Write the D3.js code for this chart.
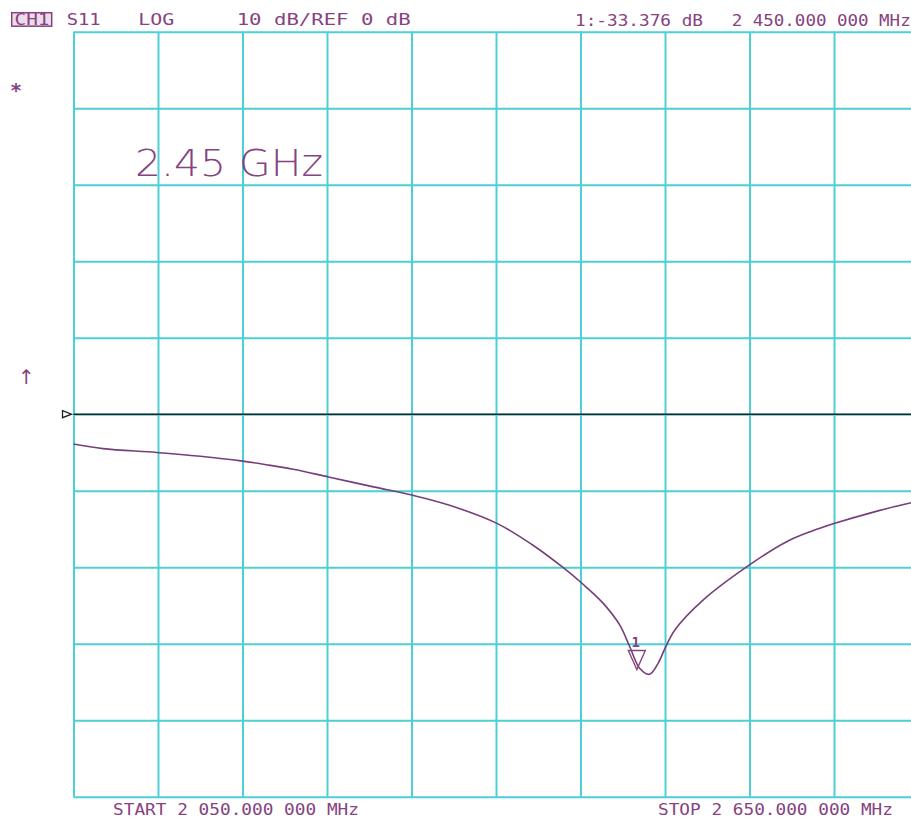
<!DOCTYPE html>
<html>
<head>
<meta charset="utf-8">
<script src="https://cdn.jsdelivr.net/npm/d3@7"></script>
<style>
  body { margin: 0; background: #fff; }
  svg { display: block; }
</style>
</head>
<body>
<svg id="root"></svg>
<script>
// S11 trace
const freqMHz = [2050, 2071, 2109, 2140, 2169, 2187, 2206, 2231, 2263, 2291, 2317, 2351, 2376, 2398, 2411, 2426, 2438, 2445, 2452, 2459, 2465, 2470, 2477, 2497, 2530, 2556, 2574, 2590, 2618, 2644, 2650];
const s11dB = [-3.9, -4.5, -5.0, -5.5, -6.1, -6.6, -7.2, -8.2, -9.5, -10.6, -11.9, -14.3, -17.1, -20.1, -22.1, -24.7, -27.6, -30.4, -33.2, -34.0, -32.6, -30.6, -28.2, -24.3, -19.7, -16.7, -15.3, -14.3, -12.8, -11.6, -11.4];

const freqTicks = d3.range(2050, 2651, 60);
const dbTicks = d3.range(-50, 51, 10);
const refLevel = 0;
const marker = { f: 2450, db: -33.376, label: "1" };
const headerLeft = ["S11", "LOG", "10 dB/REF 0 dB"];
const headerRight = ["1:-33.376 dB", "2 450.000 000 MHz"];
const footer = ["START 2 050.000 000 MHz", "STOP 2 650.000 000 MHz"];
const bigLabel = "2.45 GHz";

const width = 911;
const height = 820;
const purple = "#86437f";
const cyan = "#4ccfd6";
const mono = "'DejaVu Sans Mono', 'Liberation Mono', monospace";

const svg = d3.select("#root").attr("width", width).attr("height", height);

const x = d3.scaleLinear().domain([2050, 2650]).range([73.5, 918.5]);
const y = d3.scaleLinear().domain([-50, 50]).range([796.7, 31.7]);

// grid
const grid = svg.append("g");
grid.append("g")
  .attr("transform", `translate(0, ${y(-50)})`)
  .call(d3.axisBottom(x).tickValues(freqTicks).tickSize(-(y(-50) - y(50))).tickFormat(""))
  .call(g => g.select(".domain").remove());
grid.append("g")
  .attr("transform", `translate(${x(2050)}, 0)`)
  .call(d3.axisLeft(y).tickValues(dbTicks).tickSize(-(x(2650) - x(2050))).tickFormat(""))
  .call(g => g.select(".domain").remove());
grid.selectAll(".tick line").attr("stroke", cyan).attr("stroke-width", 2);

// reference line
svg.append("line")
  .attr("x1", x(2050)).attr("x2", x(2650))
  .attr("y1", y(refLevel)).attr("y2", y(refLevel))
  .attr("stroke", "#222").attr("stroke-width", 1.6);
svg.append("path")
  .attr("d", `M${x(2050) - 11},${y(refLevel) - 3.5} L${x(2050) - 2},${y(refLevel)} L${x(2050) - 11},${y(refLevel) + 3.5} Z`)
  .attr("fill", "#fff").attr("stroke", "#222").attr("stroke-width", 1.3);

// trace
const line = d3.line()
  .x((d, i) => x(freqMHz[i]))
  .y(d => y(d))
  .curve(d3.curveCatmullRom.alpha(0.5));
svg.append("path")
  .datum(s11dB)
  .attr("d", line)
  .attr("fill", "none")
  .attr("stroke", "#763f7a")
  .attr("stroke-width", 1.6);

// marker
const mx = x(marker.f), my = y(marker.db);
svg.append("path")
  .attr("d", `M${mx},${my} L${mx - 8.5},${my - 19} L${mx + 8.5},${my - 19} Z`)
  .attr("fill", "none").attr("stroke", purple).attr("stroke-width", 1.4);
svg.append("text")
  .attr("x", mx - 1).attr("y", my - 23)
  .attr("text-anchor", "middle")
  .attr("font-family", mono).attr("font-size", 14).attr("font-weight", "bold")
  .attr("fill", purple)
  .text(marker.label);

// header
svg.append("rect")
  .attr("x", 11.7).attr("y", 12.7).attr("width", 40).attr("height", 13.5)
  .attr("fill", "#ecdcea").attr("stroke", purple).attr("stroke-width", 1.5);
const txt = (s, x0, len, yb) => svg.append("text")
  .attr("x", x0).attr("y", yb)
  .attr("font-family", mono).attr("font-size", 15)
  .attr("fill", purple)
  .attr("textLength", len).attr("lengthAdjust", "spacingAndGlyphs")
  .text(s);
txt("CH1", 14.5, 35, 25);
txt(headerLeft[0], 66.7, 34, 25);
txt(headerLeft[1], 138.3, 36, 25);
txt(headerLeft[2], 236.7, 174, 25);
txt(headerRight[0], 575, 128, 26);
txt(headerRight[1], 731.7, 179, 26);
txt(footer[0], 113, 246, 815);
txt(footer[1], 658, 235, 815);

svg.append("text")
  .attr("x", 10).attr("y", 97)
  .attr("font-family", mono).attr("font-size", 20).attr("font-weight", "bold")
  .attr("fill", purple).text("*");
svg.append("text")
  .attr("x", 18).attr("y", 384)
  .attr("font-family", "'DejaVu Sans', sans-serif").attr("font-size", 20)
  .attr("fill", purple).text("↑");

svg.append("text")
  .attr("x", 135).attr("y", 176)
  .attr("font-family", "'DejaVu Sans', sans-serif").attr("font-size", 37).attr("font-weight", 200)
  .attr("fill", purple)
  .attr("textLength", 188).attr("lengthAdjust", "spacingAndGlyphs")
  .text(bigLabel);
</script>
</body>
</html>
